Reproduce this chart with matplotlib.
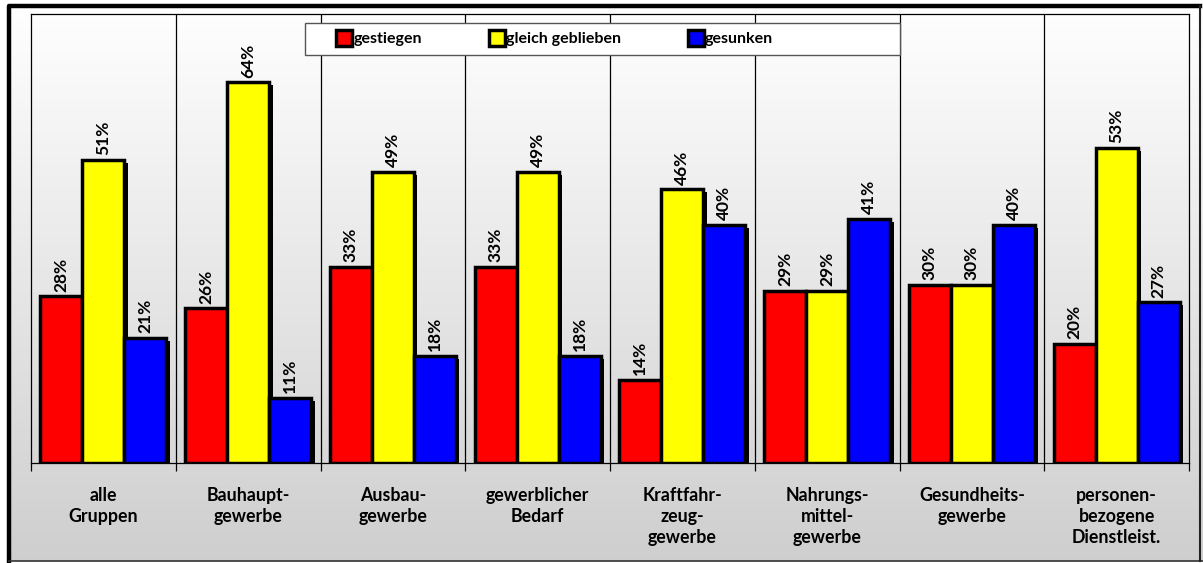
import matplotlib.pyplot as plt
import matplotlib.patheffects as pe
import numpy as np
from matplotlib.lines import Line2D
from matplotlib.patches import Rectangle

# data
categories = ["alle\nGruppen", "Bauhaupt-\ngewerbe", "Ausbau-\ngewerbe",
              "gewerblicher\nBedarf", "Kraftfahr-\nzeug-\ngewerbe",
              "Nahrungs-\nmittel-\ngewerbe", "Gesundheits-\ngewerbe",
              "personen-\nbezogene\nDienstleist."]
gestiegen = [28, 26, 33, 33, 14, 29, 30, 20]
gleich = [51, 64, 49, 49, 46, 29, 30, 53]
gesunken = [21, 11, 18, 18, 40, 41, 40, 27]
series_names = ["gestiegen", "gleich geblieben", "gesunken"]
colors = ["#ff0000", "#ffff00", "#0000ff"]

plt.rcParams['font.family'] = ['Lato', 'DejaVu Sans']
plt.rcParams['font.weight'] = 'bold'

W, H = 1203, 563
fig = plt.figure(figsize=(W / 100, H / 100), dpi=100)

# gradient background inside the frame
bg = fig.add_axes([0, 0, 1, 1], zorder=0)
grad = np.linspace(1.0, 0.81, 256).reshape(-1, 1)
bg.imshow(np.dstack([grad, grad, grad]), extent=(8, 1203, 561, 5), aspect='auto')
bg.plot([9, 9, 1200], [561, 6, 6], color='black', lw=3.2, solid_capstyle='projecting')
bg.plot([9, 1203], [561, 561], color='#333333', lw=1.2)
bg.plot([1200, 1200], [6, 561], color='#222222', lw=1.5)
bg.set_xlim(0, W)
bg.set_ylim(H, 0)
bg.axis('off')

ax = fig.add_axes([31 / W, 1 - 463 / H, (1189 - 31) / W, (463 - 14) / H], zorder=1)
ax.set_facecolor('none')

x = np.arange(len(categories))
w = 0.29
shadow = [pe.SimplePatchShadow(offset=(2.5, -2.2), shadow_rgbFace='black', alpha=1.0), pe.Normal()]
for k, vals in enumerate([gestiegen, gleich, gesunken]):
    bars = ax.bar(x + (k - 1) * w, vals, width=w, color=colors[k], edgecolor='black',
                  linewidth=2.5, zorder=3)
    for b, v in zip(bars, vals):
        b.set_path_effects(shadow)
        ax.annotate(f"{v}%", (b.get_x() + b.get_width() / 2, v), xytext=(0, 3.5),
                    textcoords='offset points', rotation=90, ha='center', va='bottom',
                    fontsize=12.5, fontweight='bold', zorder=4)

for i in range(len(categories) - 1):
    ax.axvline(i + 0.5, color='black', lw=0.9, zorder=1)

ax.set_xlim(-0.5, len(categories) - 0.5)
ax.set_ylim(0, 75.5)
ax.set_yticks([])
ax.set_xticks(np.arange(len(categories) + 1) - 0.5)
ax.set_xticklabels([])
ax.tick_params(axis='x', which='major', length=6, width=0.9, direction='out')
ax.set_xticks(x, minor=True)
ax.set_xticklabels(categories, minor=True, fontsize=12.8, fontweight='bold', linespacing=1.3)
ax.tick_params(axis='x', which='minor', length=0, pad=17)
for s in ax.spines.values():
    s.set_linewidth(0.9)

# legend box spanning the top of the plot
ax.add_patch(Rectangle(((305 - 31) / 1158, (463 - 55) / 449), (900 - 305) / 1158, 32 / 449,
                       transform=ax.transAxes, facecolor='white', edgecolor='#555555',
                       lw=1.0, zorder=5))
handles = [Line2D([], [], marker='s', ls='none', markersize=11, markerfacecolor=c,
                  markeredgecolor='black', markeredgewidth=2.5) for c in colors]
leg = ax.legend(handles, series_names, ncol=3, frameon=False, loc='center left',
                bbox_to_anchor=((338 - 31) / 1158, (463 - 39) / 449),
                handletextpad=0.15, columnspacing=4.3, borderaxespad=0, borderpad=0,
                prop={'size': 11.5, 'weight': 'bold'}, handlelength=0.8)
leg.set_zorder(6)

fig.savefig("out.png", dpi=100)
